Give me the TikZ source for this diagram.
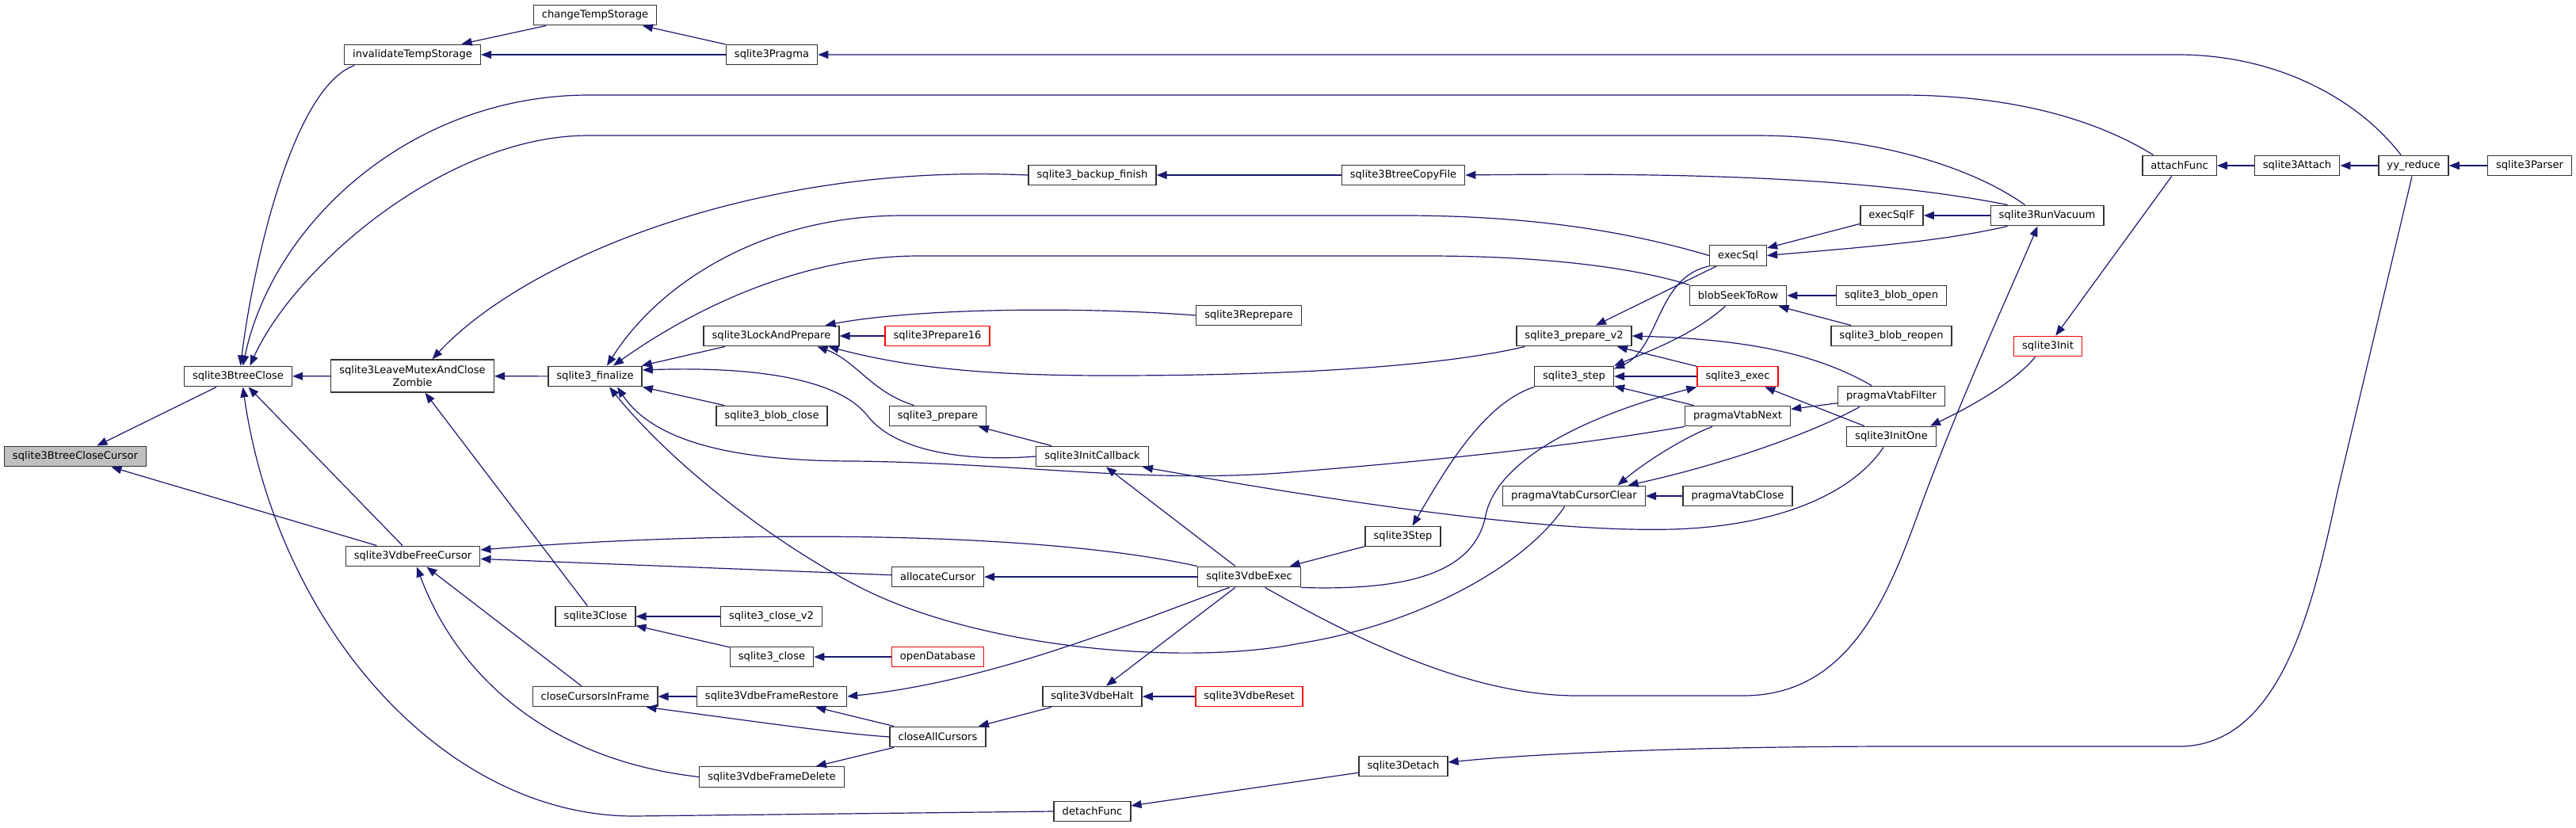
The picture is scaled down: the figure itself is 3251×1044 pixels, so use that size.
\documentclass[tikz,border=0pt]{standalone}
\usepackage{fontspec}
\setmainfont{DejaVu Sans}
\usepackage{tikz}
\usetikzlibrary{arrows.meta}
\usepackage{xcolor}
\definecolor{edgeblue}{HTML}{191970}
\definecolor{boxline}{HTML}{333333}
\definecolor{cursorgray}{HTML}{BFBFBF}

\begin{document}
\begin{tikzpicture}[
    x=1pt, y=-1pt,
    block/.style={
      rectangle, draw=boxline, line width=1.4pt, fill=white,
      minimum height=25.5pt, inner xsep=10.5pt, inner ysep=2pt,
      font=\fontsize{13.1}{15.5}\selectfont
    },
    blockred/.style={block, draw=red},
    blockgray/.style={block, fill=cursorgray},
    arrow/.style={{Triangle[length=13pt, width=10pt]}-, line width=1.2pt, draw=edgeblue}
  ]
    \useasboundingbox (0,0) rectangle (3251,1044);

    \node[blockgray] (btcc) at (95,576) {sqlite3BtreeCloseCursor};
    \node[block] (btc) at (300.5,475) {sqlite3BtreeClose};
    \node[block] (its) at (520.5,69) {invalidateTempStorage};
    \node[block] (cts) at (751,19) {changeTempStorage};
    \node[block, align=center, minimum height=41pt] (lmacz) at (520.5,474.5) {sqlite3LeaveMutexAndClose\\Zombie};
    \node[block] (fin) at (751,475) {sqlite3\_finalize};
    \node[block] (vfc) at (521,702) {sqlite3VdbeFreeCursor};
    \node[block] (sclose) at (751.5,778) {sqlite3Close};
    \node[block] (ccif) at (751,879) {closeCursorsInFrame};
    \node[block] (pragma) at (974,69) {sqlite3Pragma};
    \node[block] (bkfin) at (1378.5,221) {sqlite3\_backup\_finish};
    \node[block] (reprep) at (1576,398) {sqlite3Reprepare};
    \node[block] (lap) at (973.5,424) {sqlite3LockAndPrepare};
    \node[blockred] (prep16) at (1183,424) {sqlite3Prepare16};
    \node[block] (blobclose) at (974,525) {sqlite3\_blob\_close};
    \node[block] (prep) at (1183.5,525) {sqlite3\_prepare};
    \node[block] (initcb) at (1378.5,576) {sqlite3InitCallback};
    \node[block] (alloc) at (1183.5,728) {allocateCursor};
    \node[block] (vexec) at (1576.5,728) {sqlite3VdbeExec};
    \node[block] (closev2) at (973.5,778) {sqlite3\_close\_v2};
    \node[block] (apiclose) at (974,829) {sqlite3\_close};
    \node[blockred] (opendb) at (1183.5,829) {openDatabase};
    \node[block] (frest) at (974,879) {sqlite3VdbeFrameRestore};
    \node[block] (vhalt) at (1378.5,879) {sqlite3VdbeHalt};
    \node[blockred] (vreset) at (1576.5,879) {sqlite3VdbeReset};
    \node[block] (cac) at (1183.5,930) {closeAllCursors};
    \node[block] (fdel) at (974,980.5) {sqlite3VdbeFrameDelete};
    \node[block] (detfn) at (1378.5,1024) {detachFunc};
    \node[block] (copyf) at (1771,221) {sqlite3BtreeCopyFile};
    \node[block] (vstep) at (1770.5,677) {sqlite3Step};
    \node[block] (detach) at (1771,967) {sqlite3Detach};
    \node[block] (execf) at (2387.5,272) {execSqlF};
    \node[block] (execsql) at (2193.5,322.5) {execSql};
    \node[block] (seek) at (2193.5,373) {blobSeekToRow};
    \node[block] (bopen) at (2387,373) {sqlite3\_blob\_open};
    \node[block] (pv2) at (1986.5,424) {sqlite3\_prepare\_v2};
    \node[block] (breopen) at (2387,424) {sqlite3\_blob\_reopen};
    \node[block] (step) at (1986.5,475) {sqlite3\_step};
    \node[blockred] (sexec) at (2193,475) {sqlite3\_exec};
    \node[block] (vfilter) at (2387,500) {pragmaVtabFilter};
    \node[block] (vnext) at (2193,525) {pragmaVtabNext};
    \node[block] (initone) at (2387,551) {sqlite3InitOne};
    \node[block] (vclear) at (1986.5,626) {pragmaVtabCursorClear};
    \node[block] (vclose) at (2193,626) {pragmaVtabClose};
    \node[block] (vacuum) at (2583.5,272) {sqlite3RunVacuum};
    \node[block] (attach) at (2750.5,209) {attachFunc};
    \node[block] (sattach) at (2899,209) {sqlite3Attach};
    \node[block] (yyred) at (3046,209) {yy\_reduce};
    \node[block] (parser) at (3192.5,209) {sqlite3Parser};
    \node[blockred] (sinit) at (2584.5,437) {sqlite3Init};

    \draw[arrow] (btcc) -- (btc);
    \draw[arrow] (btcc) -- (vfc);
    \draw[arrow] (btc) -- (lmacz);
    \draw[arrow] (btc) -- (vfc);
    \draw[arrow] (its) -- (cts);
    \draw[arrow] (its) -- (pragma);
    \draw[arrow] (cts) -- (pragma);
    \draw[arrow] (lmacz) -- (fin);
    \draw[arrow] (lmacz) -- (sclose);
    \draw[arrow] (fin) -- (lap);
    \draw[arrow] (fin) -- (blobclose);
    \draw[arrow] (lap) -- (prep16);
    \draw[arrow] (prep) -- (initcb);
    \draw[arrow] (initcb) -- (vexec);
    \draw[arrow] (vfc) -- (alloc);
    \draw[arrow] (vfc) -- (ccif);
    \draw[arrow] (sclose) -- (closev2);
    \draw[arrow] (sclose) -- (apiclose);
    \draw[arrow] (apiclose) -- (opendb);
    \draw[arrow] (ccif) -- (frest);
    \draw[arrow] (frest) -- (cac);
    \draw[arrow] (fdel) -- (cac);
    \draw[arrow] (cac) -- (vhalt);
    \draw[arrow] (vhalt) -- (vexec);
    \draw[arrow] (vhalt) -- (vreset);
    \draw[arrow] (alloc) -- (vexec);
    \draw[arrow] (vexec) -- (vstep);
    \draw[arrow] (step) -- (sexec);
    \draw[arrow] (step) -- (vnext);
    \draw[arrow] (pv2) -- (execsql);
    \draw[arrow] (pv2) -- (sexec);
    \draw[arrow] (sexec) -- (initone);
    \draw[arrow] (execsql) -- (execf);
    \draw[arrow] (execf) -- (vacuum);
    \draw[arrow] (bkfin) -- (copyf);
    \draw[arrow] (seek) -- (bopen);
    \draw[arrow] (seek) -- (breopen);
    \draw[arrow] (vclear) -- (vclose);
    \draw[arrow] (vnext) -- (vfilter);
    \draw[arrow] (sinit) -- (attach);
    \draw[arrow] (attach) -- (sattach);
    \draw[arrow] (sattach) -- (yyred);
    \draw[arrow] (yyred) -- (parser);
    \draw[arrow] (detfn) -- (detach);

    % curved calls
    \draw[arrow] ([xshift=3]btc.north) .. controls (320,330) and (370,110) .. ([xshift=-73]its.south);
    \draw[arrow] ([xshift=6]btc.north) .. controls (345,280) and (520,120) .. (743,120) -- (2398,120) .. controls (2560,120) and (2660,160) .. ([xshift=-33]attach.north);
    \draw[arrow] ([xshift=15]btc.north) .. controls (370,340) and (560,171) .. (743,171) -- (2215,171) .. controls (2350,171) and (2480,205) .. ([xshift=-28]vacuum.north);
    \draw[arrow] ([xshift=6]btc.south) .. controls (350,790) and (560,1030) .. (800,1030) -- (detfn.west);
    \draw[arrow] (pragma) -- (2748,69) .. controls (2880,69) and (2980,130) .. ([xshift=-16]yyred.north);
    \draw[arrow] ([xshift=25]lmacz.north) .. controls (660,330) and (950,205) .. (bkfin.west);
    \draw[arrow] ([xshift=15]fin.north) .. controls (830,360) and (960,272) .. (1140,272) -- (1770,272) .. controls (1960,272) and (2080,300) .. (execsql.west);
    \draw[arrow] ([xshift=23]fin.north) .. controls (860,400) and (1000,323) .. (1160,323) -- (1800,323) .. controls (1960,323) and (2070,340) .. (seek.north west);
    \draw[arrow] ([yshift=8]fin.east) .. controls (960,462) and (1060,480) .. (1095,525) .. controls (1130,570) and (1220,583) .. (initcb.west);
    \draw[arrow] ([xshift=28]fin.south) .. controls (830,565) and (950,582) .. (1080,582) .. controls (1300,585) and (1450,612) .. (1640,595) .. controls (1850,578) and (2000,560) .. (vnext.south west);
    \draw[arrow] ([xshift=18]fin.south) .. controls (860,600) and (1000,700) .. (1097,747) .. controls (1250,820) and (1500,840) .. (1640,812) .. controls (1780,790) and (1920,720) .. ([xshift=-12]vclear.south);
    \draw[arrow] ([xshift=68]lap.north) .. controls (1150,390) and (1350,386) .. (reprep.west);
    \draw[arrow] ([xshift=72]lap.south) .. controls (1150,465) and (1250,474) .. (1400,474) .. controls (1700,474) and (1850,455) .. ([xshift=-62]pv2.south);
    \draw[arrow] ([xshift=58]lap.south) .. controls (1080,455) and (1100,495) .. ([xshift=-30]prep.north);
    \draw[arrow] ([xshift=-8]initcb.south east) .. controls (1700,635) and (1950,672) .. (2110,668) .. controls (2250,664) and (2340,620) .. ([xshift=-10]initone.south);
    \draw[arrow] ([yshift=8]vfc.east) .. controls (900,670) and (1300,668) .. (vexec.north west);
    \draw[arrow] ([xshift=5]vfc.south) .. controls (580,860) and (700,960) .. (fdel.west);
    \draw[arrow] ([xshift=-15]ccif.south east) .. controls (950,910) and (1050,925) .. (cac.west);
    \draw[arrow] (frest.east) .. controls (1250,860) and (1420,790) .. ([xshift=-25]vexec.south);
    \draw[arrow] ([xshift=12]vstep.north) .. controls (1820,600) and (1870,510) .. (step.south west);
    \draw[arrow] ([xshift=-12]vacuum.south) .. controls (2540,360) and (2470,512) .. (2420,650) .. controls (2380,760) and (2330,878) .. (2200,878) -- (1990,878) .. controls (1850,878) and (1700,800) .. ([xshift=20]vexec.south);
    \draw[arrow] (sexec.south west) .. controls (2000,525) and (1890,580) .. (1875,650) .. controls (1860,730) and (1760,745) .. (vexec.south east);
    \draw[arrow] ([yshift=-4]step.north east) .. controls (2095,440) and (2090,350) .. (execsql.south west);
    \draw[arrow] (step.north east) .. controls (2090,440) and (2140,420) .. ([xshift=-16]seek.south);
    \draw[arrow] (pv2.east) .. controls (2200,428) and (2290,445) .. ([xshift=-25]vfilter.north);
    \draw[arrow] (execsql.east) .. controls (2350,312) and (2450,305) .. ([xshift=-50]vacuum.south);
    \draw[arrow] (copyf.east) .. controls (2100,218) and (2350,222) .. ([xshift=22]vacuum.north west);
    \draw[arrow] ([xshift=55]vclear.north) .. controls (2080,580) and (2130,550) .. ([xshift=-32]vnext.south);
    \draw[arrow] ([xshift=68]vclear.north) .. controls (2180,585) and (2290,545) .. ([xshift=-40]vfilter.south);
    \draw[arrow] ([xshift=-8]initone.north east) .. controls (2490,512) and (2545,480) .. ([xshift=-16]sinit.south);
    \draw[arrow] ([yshift=5]detach.east) .. controls (1950,950) and (2150,942) .. (2400,942) -- (2750,942) .. controls (2880,942) and (2920,760) .. (2950,620) -- ([xshift=-2]yyred.south);
\end{tikzpicture}
\end{document}
